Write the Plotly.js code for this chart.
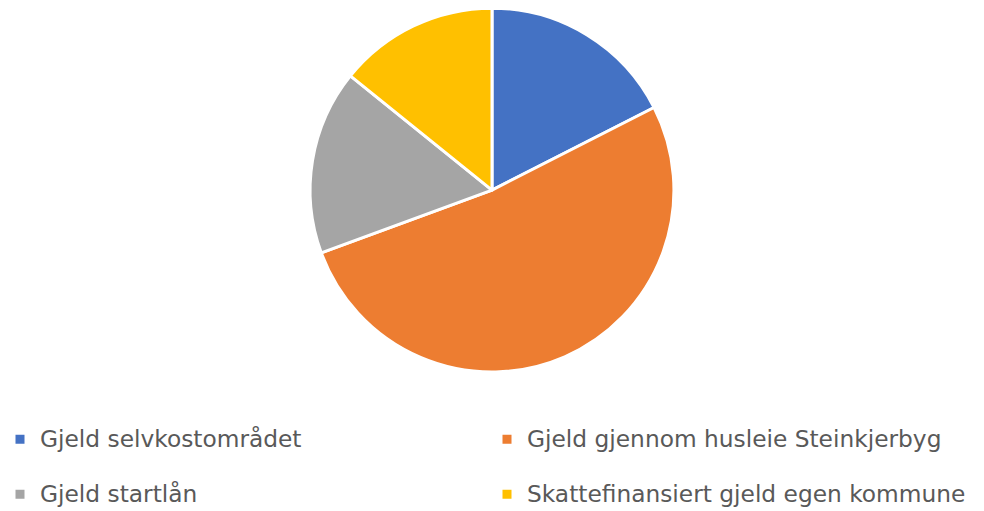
<!DOCTYPE html>
<html>
<head>
<meta charset="utf-8">
<script src="https://cdn.plot.ly/plotly-3.0.1.min.js"></script>
<style>html,body{margin:0;padding:0;background:#fff}#chart{width:984px;height:511px}</style>
</head>
<body>
<div id="chart"></div>
<script>
var categories = ["Gjeld selvkostområdet", "Gjeld gjennom husleie Steinkjerbyg", "Gjeld startlån", "Skattefinansiert gjeld egen kommune"];
var values = [17.5, 51.9, 16.4, 14.2];
var colors = ["#4472C4", "#ED7D31", "#A5A5A5", "#FFC000"];

var trace = {
  type: "pie",
  labels: categories.map(function (c) {
    return "<span style=\"font-size:23.3px\">" + c + "</span><br>&nbsp;";
  }),
  values: values,
  sort: false,
  direction: "clockwise",
  rotation: 0,
  textinfo: "none",
  hoverinfo: "none",
  marker: { colors: colors, line: { color: "#ffffff", width: 3 } },
  domain: { x: [0, 1], y: [0.272, 0.984] }
};

var layout = {
  width: 984,
  height: 511,
  margin: { l: 0, r: 0, t: 0, b: 0, autoexpand: false },
  paper_bgcolor: "#ffffff",
  showlegend: true,
  legend: {
    orientation: "h",
    x: 0, y: 0.1785, xanchor: "left", yanchor: "top",
    entrywidth: 442, entrywidthmode: "pixels",
    valign: "top",
    font: { family: "DejaVu Sans, sans-serif", size: 20, color: "#595959" },
    traceorder: "normal"
  }
};

Plotly.newPlot("chart", [trace], layout, { staticPlot: true });
</script>
</body>
</html>
